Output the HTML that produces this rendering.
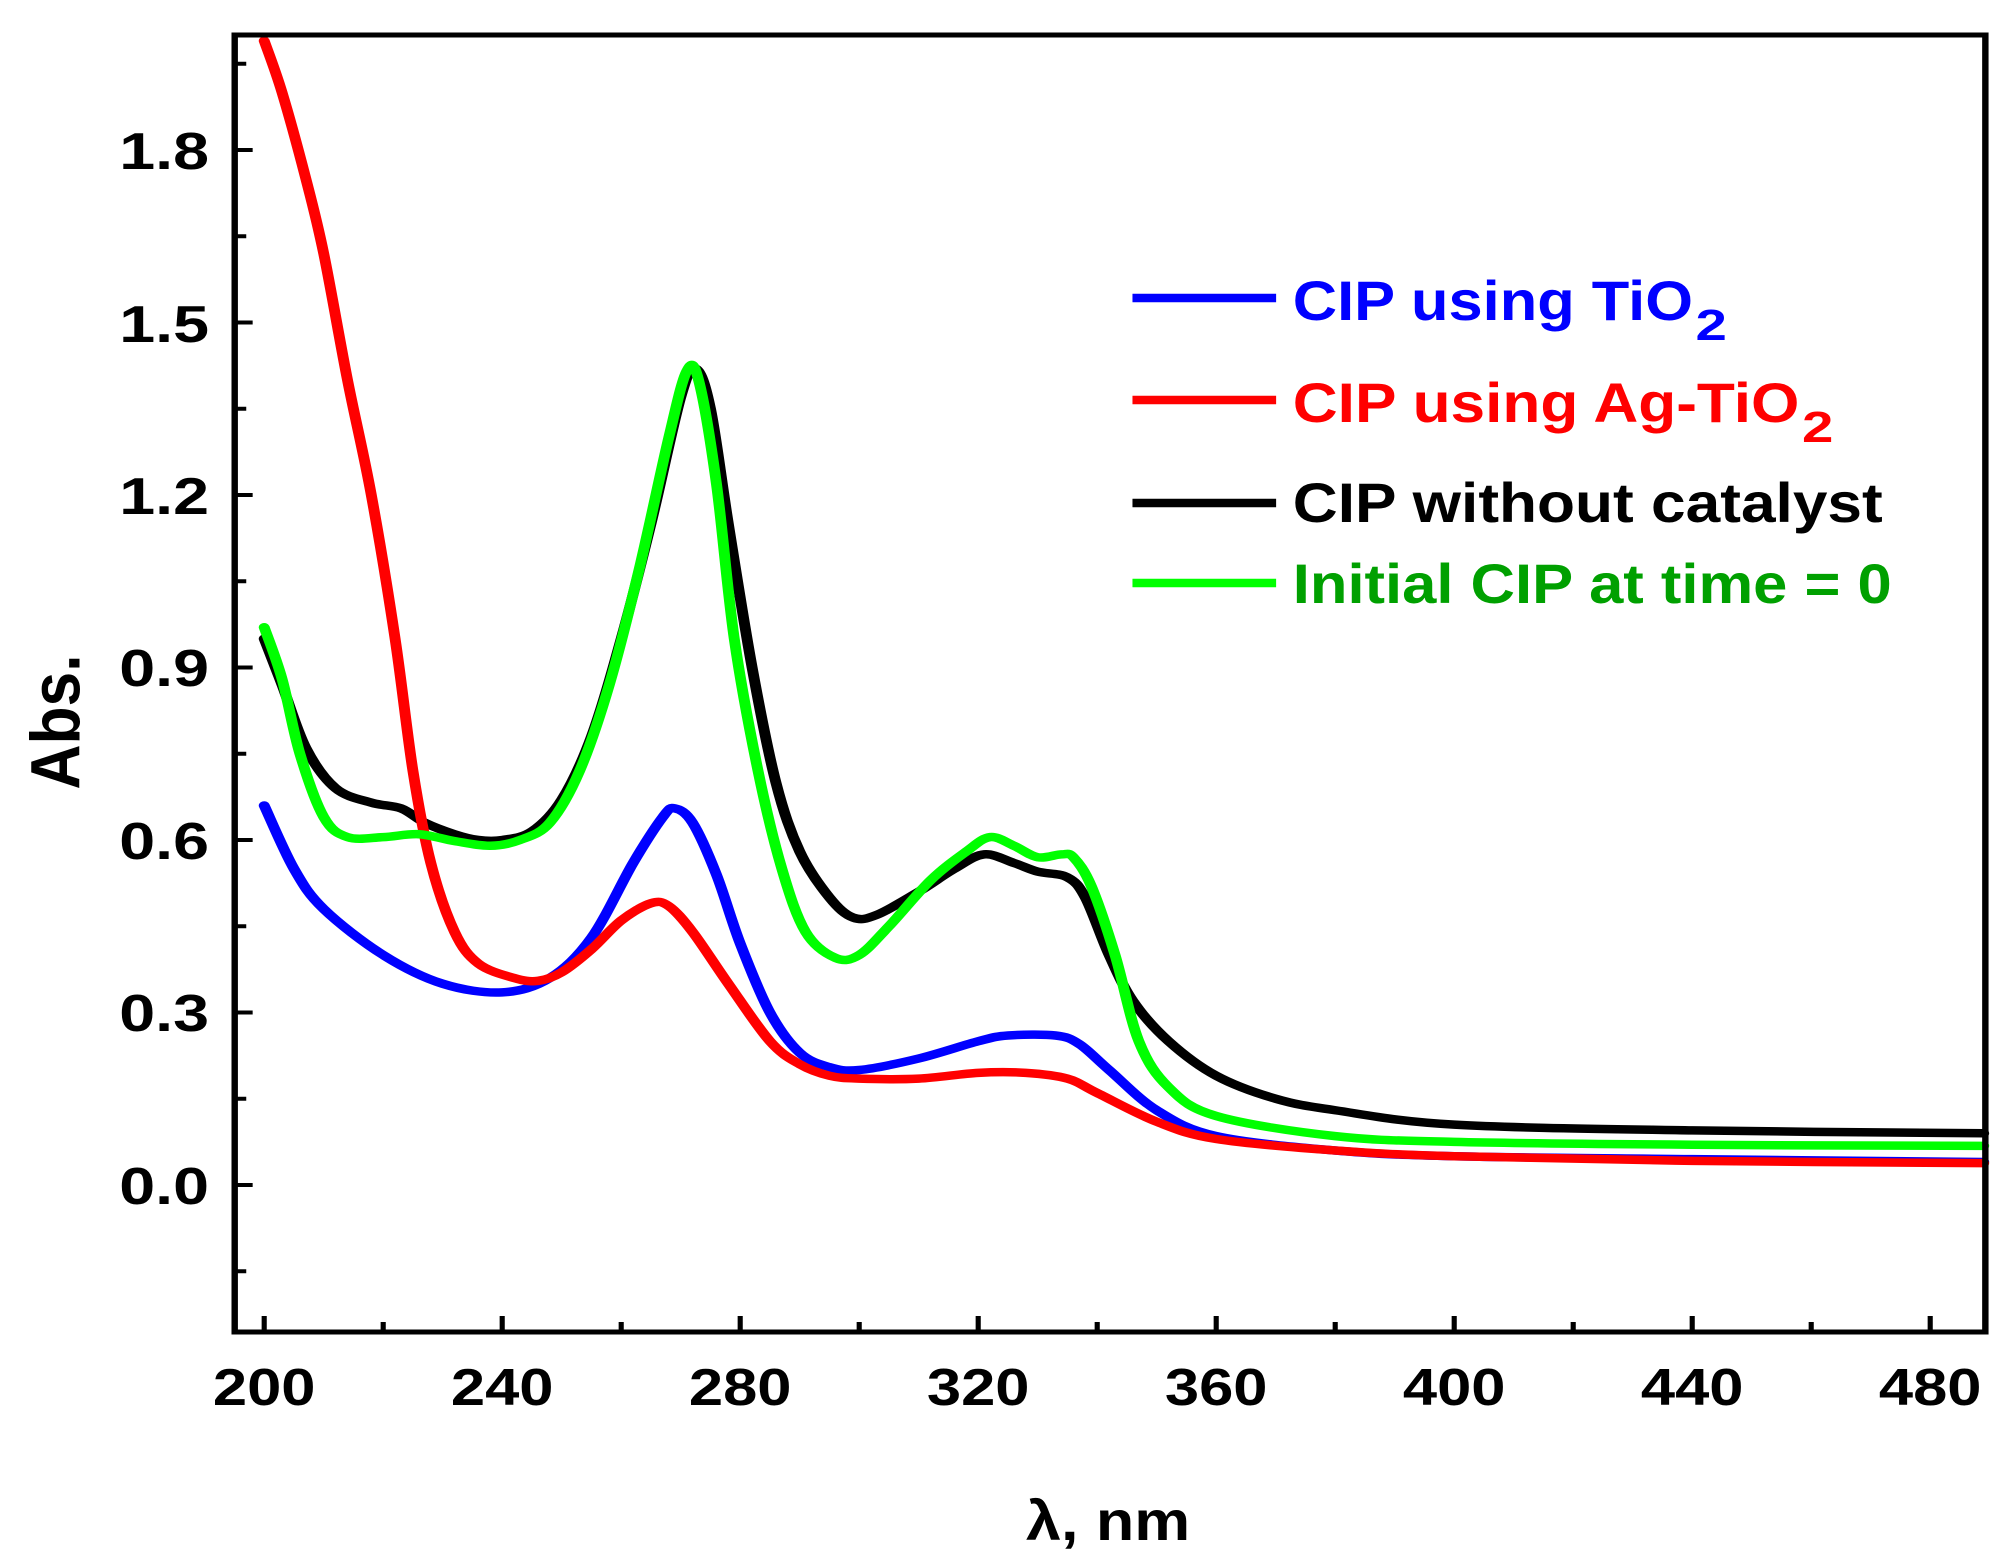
<!DOCTYPE html>
<html><head><meta charset="utf-8"><style>
html,body{margin:0;padding:0;background:#fff;}
svg{display:block;}
text{font-family:"Liberation Sans",Arial,sans-serif;font-weight:bold;}
</style></head><body>
<svg id="s" width="2011" height="1568" viewBox="0 0 2011 1568" xmlns="http://www.w3.org/2000/svg">
<g id="g" transform="scale(1.28253,1)">
<g id="ticks" stroke="#000" stroke-width="4"></g>
<g id="curves" fill="none" stroke-width="8.5" stroke-linejoin="round" stroke-linecap="round"></g>
<rect x="183" y="35" width="1365" height="1297" fill="none" stroke="#000" stroke-width="5"/>
<g font-size="52" fill="#000" text-anchor="end">
<text x="163" y="1204" textLength="70" lengthAdjust="spacingAndGlyphs">0.0</text>
<text x="163" y="1031" textLength="70" lengthAdjust="spacingAndGlyphs">0.3</text>
<text x="163" y="859" textLength="70" lengthAdjust="spacingAndGlyphs">0.6</text>
<text x="163" y="686" textLength="70" lengthAdjust="spacingAndGlyphs">0.9</text>
<text x="163" y="514" textLength="70" lengthAdjust="spacingAndGlyphs">1.2</text>
<text x="163" y="342" textLength="70" lengthAdjust="spacingAndGlyphs">1.5</text>
<text x="163" y="169" textLength="70" lengthAdjust="spacingAndGlyphs">1.8</text>
</g>
<g id="xl" font-size="52" fill="#000" text-anchor="middle"></g>
<text transform="translate(62,722) rotate(-90)" font-size="54" text-anchor="middle" textLength="135" lengthAdjust="spacingAndGlyphs">Abs.</text>
<text x="864" y="1540" font-size="56" text-anchor="middle" textLength="128" lengthAdjust="spacingAndGlyphs">λ, nm</text>
<g stroke-width="8.5">
<line x1="883" y1="298" x2="995" y2="298" stroke="#0000ff"/>
<line x1="883" y1="400" x2="995" y2="400" stroke="#ff0000"/>
<line x1="883" y1="503" x2="995" y2="503" stroke="#000"/>
<line x1="883" y1="583" x2="995" y2="583" stroke="#00ff00"/>
</g>
<g font-size="56">
<text x="1008" y="320" fill="#0000ff" textLength="312" lengthAdjust="spacingAndGlyphs">CIP using TiO</text>
<text x="1322" y="340" fill="#0000ff" font-size="44">2</text>
<text x="1008" y="422" fill="#ff0000" textLength="395" lengthAdjust="spacingAndGlyphs">CIP using Ag-TiO</text>
<text x="1405" y="442" fill="#ff0000" font-size="44">2</text>
<text x="1008" y="522" fill="#000" textLength="460" lengthAdjust="spacingAndGlyphs">CIP without catalyst</text>
<text x="1008" y="603" fill="#00a000" textLength="467" lengthAdjust="spacingAndGlyphs">Initial CIP at time = 0</text>
</g>
</g>
</svg>
<script>
(function(){
var NS="http://www.w3.org/2000/svg";
function X(n){return 206+(n-200)*(1505-206)/280;}
function Y(a){return 1185-a*575;}
var t=document.getElementById('ticks');
function ln(x1,y1,x2,y2){var l=document.createElementNS(NS,'line');l.setAttribute('x1',x1);l.setAttribute('y1',y1);l.setAttribute('x2',x2);l.setAttribute('y2',y2);t.appendChild(l);}
for(var a=-0.15;a<=1.95;a+=0.15){var y=Y(a);var maj=Math.abs((a/0.3)-Math.round(a/0.3))<0.01;ln(183,y,183+(maj?14:9),y);}
for(var n=200;n<=480;n+=20){var x=X(n);var maj=n%40==0;ln(x,1332,x,1332-(maj?16:10));}
var xl=document.getElementById('xl');
for(var n=200;n<=480;n+=40){var tx=document.createElementNS(NS,'text');tx.setAttribute('x',X(n));tx.setAttribute('y',1405);tx.setAttribute('textLength',80);tx.setAttribute('lengthAdjust','spacingAndGlyphs');tx.textContent=n;xl.appendChild(tx);}
function path(d){var p=d.map(function(q){return [X(q[0]),Y(q[1])];});var s="M"+p[0][0]+","+p[0][1];
for(var i=0;i<p.length-1;i++){var p0=p[i>0?i-1:0],p1=p[i],p2=p[i+1],p3=p[i+2<p.length?i+2:i+1];
var c1=[p1[0]+(p2[0]-p0[0])/6,p1[1]+(p2[1]-p0[1])/6],c2=[p2[0]-(p3[0]-p1[0])/6,p2[1]-(p3[1]-p1[1])/6];
s+=" C"+c1[0]+","+c1[1]+" "+c2[0]+","+c2[1]+" "+p2[0]+","+p2[1];}return s;}
var cv=document.getElementById('curves');
function add(d,c){var e=document.createElementNS(NS,'path');e.setAttribute('d',path(d));e.setAttribute('stroke',c);cv.appendChild(e);}
var black=[[200,0.95],[203,0.87],[207,0.76],[212,0.69],[218,0.665],[223,0.655],[227,0.63],[232,0.61],[236,0.6],[240,0.6],[245,0.615],[250,0.67],[255,0.78],[260,0.95],[265,1.15],[270,1.37],[272.5,1.42],[275,1.35],[278,1.15],[282,0.9],[286,0.7],[290,0.58],[295,0.5],[299,0.465],[303,0.47],[310,0.51],[316,0.55],[321,0.575],[326,0.56],[330,0.545],[335,0.535],[338,0.5],[342,0.4],[346,0.32],[352,0.25],[360,0.19],[370,0.15],[380,0.13],[400,0.105],[440,0.095],[489,0.09]];
var blue=[[200,0.66],[205,0.55],[210,0.48],[220,0.40],[230,0.35],[240,0.335],[248,0.36],[255,0.43],[262,0.56],[267,0.64],[269,0.655],[272,0.63],[276,0.54],[280,0.42],[285,0.3],[290,0.23],[295,0.205],[300,0.2],[310,0.22],[320,0.25],[325,0.26],[333,0.26],[337,0.245],[342,0.2],[350,0.13],[360,0.085],[380,0.06],[400,0.05],[440,0.045],[489,0.04]];
var red=[[200,1.99],[203,1.9],[207,1.75],[210,1.62],[214,1.4],[218,1.2],[222,0.95],[225,0.72],[228,0.56],[232,0.44],[236,0.385],[242,0.36],[246,0.355],[250,0.37],[255,0.41],[260,0.46],[265,0.49],[268,0.485],[272,0.44],[278,0.35],[285,0.25],[290,0.21],[295,0.19],[300,0.185],[310,0.185],[320,0.195],[328,0.195],[335,0.185],[340,0.16],[350,0.11],[360,0.08],[380,0.06],[400,0.05],[440,0.042],[489,0.038]];
var green=[[200,0.97],[203,0.88],[206,0.75],[210,0.64],[214,0.605],[220,0.605],[226,0.61],[232,0.598],[238,0.59],[243,0.6],[248,0.63],[253,0.72],[258,0.87],[263,1.07],[268,1.3],[271,1.415],[273,1.4],[276,1.22],[279,0.95],[283,0.72],[287,0.55],[291,0.44],[296,0.395],[300,0.4],[305,0.45],[312,0.53],[318,0.58],[322,0.605],[326,0.59],[330,0.57],[334,0.575],[336,0.57],[339,0.52],[343,0.4],[347,0.25],[352,0.17],[360,0.12],[380,0.085],[400,0.075],[440,0.07],[489,0.068]];
add(black,'#000');add(blue,'#0000ff');add(red,'#ff0000');add(green,'#00ff00');
})();
</script>
</body></html>
